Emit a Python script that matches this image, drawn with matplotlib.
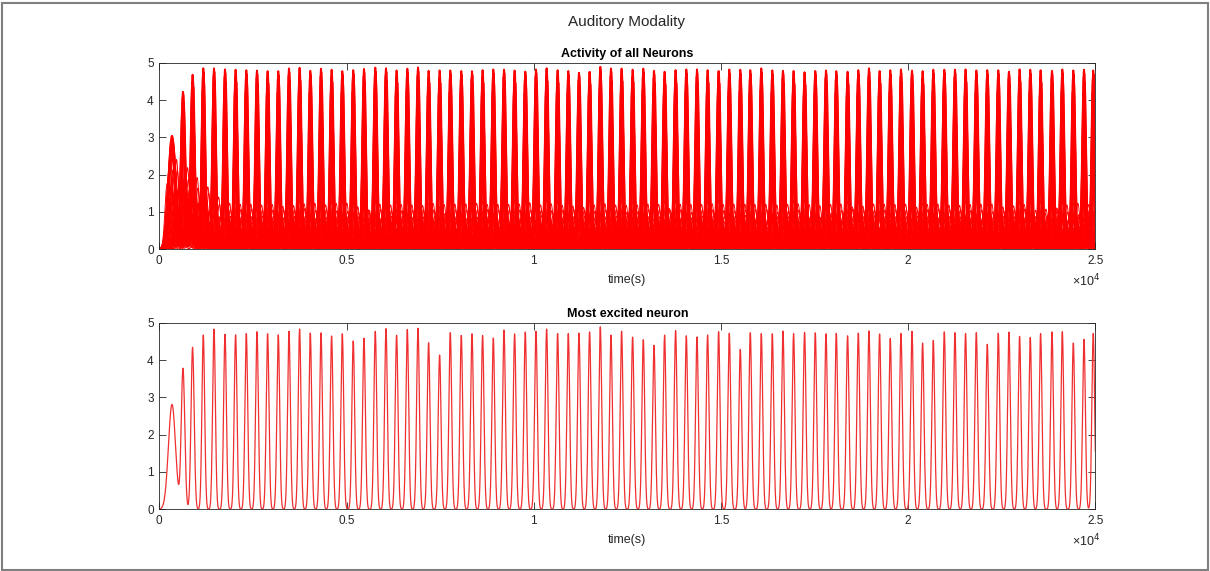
import matplotlib
matplotlib.use("Agg")
import matplotlib.pyplot as plt
import numpy as np
from matplotlib.patches import Rectangle

plt.rcParams["font.family"] = ["Liberation Sans", "DejaVu Sans"]

# values
# ======================================================================================================================

t_max = 25000
period = 287

# peak times of the most excited neuron (also the big peaks of the population)
peak_times = [339, 633, 889, 1175, 1461, 1755, 2038, 2324, 2609, 2893, 3178, 3464, 3747, 4033, 4319, 4602, 4888,
              5180, 5467, 5769, 6055, 6338, 6624, 6910, 7193, 7487, 7772, 8066, 8352, 8635, 8921, 9207, 9490, 9775,
              10061, 10345, 10639, 10924, 11210, 11493, 11779, 12064, 12348, 12642, 12927, 13213, 13496, 13790,
              14076, 14361, 14645, 14939, 15224, 15518, 15785, 16079, 16373, 16658, 16941, 17235, 17521, 17807,
              18082, 18384, 18670, 18955, 19239, 19524, 19810, 20104, 20387, 20673, 20967, 21252, 21535, 21822,
              22115, 22409, 22694, 22978, 23263, 23539, 23843, 24119, 24413, 24698, 24945]

# peak heights of the most excited neuron (bottom panel)
excited_heights = [2.81, 3.76, 4.34, 4.67, 4.83, 4.69, 4.68, 4.71, 4.76, 4.71, 4.68, 4.77, 4.84, 4.73, 4.73, 4.65,
                   4.71, 4.51, 4.59, 4.77, 4.84, 4.67, 4.82, 4.85, 4.47, 4.14, 4.74, 4.66, 4.71, 4.66, 4.59, 4.81,
                   4.70, 4.75, 4.77, 4.83,
                   4.71, 4.71, 4.72, 4.76, 4.89, 4.67, 4.78, 4.62, 4.55, 4.40, 4.67, 4.79, 4.65, 4.62, 4.67, 4.76,
                   4.72, 4.29, 4.73, 4.71, 4.71, 4.78, 4.71, 4.74, 4.73, 4.71, 4.72, 4.65, 4.72, 4.78, 4.70, 4.58,
                   4.71, 4.77, 4.46, 4.53, 4.76, 4.74, 4.71,
                   4.74, 4.42, 4.72, 4.75, 4.64, 4.61, 4.71, 4.76, 4.76, 4.46, 4.56, 4.71]

# tallest trace among all neurons (top panel envelope)
top_heights = [3.04, 4.20, 4.68,
               4.85, 4.85, 4.82, 4.82, 4.80, 4.79, 4.78, 4.78, 4.85, 4.87,
               4.79, 4.84, 4.82, 4.78, 4.80, 4.84, 4.87, 4.85, 4.80, 4.84,
               4.87, 4.79, 4.80, 4.80, 4.78, 4.78, 4.80, 4.82, 4.82, 4.79,
               4.76, 4.82, 4.85, 4.80,
               4.78, 4.73, 4.76, 4.89, 4.85, 4.85, 4.82, 4.85, 4.79, 4.76,
               4.80, 4.82, 4.82, 4.80, 4.78, 4.82, 4.82, 4.80, 4.85, 4.80,
               4.79, 4.78, 4.74, 4.78, 4.80, 4.78, 4.76, 4.80, 4.85, 4.78,
               4.80, 4.82, 4.79, 4.78, 4.82, 4.82, 4.82, 4.82,
               4.80, 4.80, 4.80, 4.76, 4.83, 4.82, 4.80, 4.79, 4.82, 4.80, 4.82, 4.79]

# pulse widths: first bursts are broader
early_widths = [95, 47, 42]
pulse_width = 37

# strongly driven neurons firing with the big peaks: level relative to the tallest one and phase lag
high_gains = [0.98, 0.96, 0.93, 0.88, 0.80, 0.70, 0.55, 0.42]
high_lags = [0.05, -0.05, 0.09, -0.08, 0.02, 0.12, -0.11, 0.0]

# weaker neurons: peak level and phase lag (fraction of a period)
low_gains = [1.30, 1.20, 1.15, 1.10, 1.05, 1.00, 0.95, 0.90, 0.88, 0.85, 0.80, 0.75, 0.72, 0.70, 0.65,
             0.60, 0.55, 0.50, 0.48, 0.45, 0.40, 0.35, 0.32, 0.30, 0.25, 0.20, 0.18, 0.15, 0.10, 0.06]
low_lags = [0.00, 0.42, -0.12, 0.18, 0.50, -0.30, 0.08, 0.33, -0.45, 0.25, -0.05, 0.60, -0.20, 0.12, 0.38,
            -0.38, 0.05, 0.48, -0.15, 0.28, -0.25, 0.15, 0.55, -0.08, 0.35, -0.42, 0.22, 0.45, -0.32, 0.10]
early_boost = [2.0, 1.8, 1.6, 1.4, 1.15]
low_width = 58

# build traces
# ======================================================================================================================

t = np.linspace(0, t_max, 5001)


def pulse_train(times, heights, widths):
    y = np.zeros_like(t)
    for tp, h, w in zip(times, heights, widths):
        y += h * np.exp(-(t - tp) ** 2 / (2 * w ** 2))
    return y


n = len(peak_times)
widths = early_widths + [pulse_width] * (n - len(early_widths))

excited = pulse_train(peak_times, excited_heights, widths)
tallest = pulse_train(peak_times, top_heights, widths)

high_traces = []
for g, lag in zip(high_gains, high_lags):
    times = [tp + lag * period for tp in peak_times]
    high_traces.append(pulse_train(times, [g * h for h in top_heights], widths))

low_traces = []
for k, (g, lag) in enumerate(zip(low_gains, low_lags)):
    times = [tp + lag * period for tp in peak_times]
    amps = []
    for j in range(n):
        a = g * excited_heights[(j + 7 * k) % n] / 4.7
        if j < len(early_boost):
            a *= early_boost[j]
        amps.append(a)
    low_traces.append(pulse_train(times, amps, [low_width] * n))

# plotting
# ======================================================================================================================

fig = plt.figure(figsize=(12.1, 5.71), dpi=100)
fig.patches.append(Rectangle((1.5 / 1210, 1.5 / 571), 1206 / 1210, 567 / 571, transform=fig.transFigure,
                             fill=False, edgecolor="#7f7f7f", linewidth=1.5))

ax1 = fig.add_axes([159.3 / 1210, 1 - 249.3 / 571, 936 / 1210, 186.6 / 571])
ax2 = fig.add_axes([159.3 / 1210, 1 - 509.3 / 571, 936 / 1210, 186.6 / 571])

for y in low_traces:
    ax1.plot(t, y, color="red", linewidth=0.7)
for y in high_traces:
    ax1.plot(t, y, color="red", linewidth=1.0)
ax1.plot(t, excited, color="red", linewidth=1.2)
ax1.plot(t, tallest, color="red", linewidth=1.4)

ax2.plot(t, excited, color="#f03030", linewidth=0.9)

fig.text(627 / 1210, 1 - 22 / 571, "Auditory Modality", ha="center", va="center", fontsize=11, color="#262626")
ax1.set_title("Activity of all Neurons", fontsize=9, fontweight="bold", pad=4)
ax2.set_title("Most excited neuron", fontsize=9, fontweight="bold", pad=4)

for ax in (ax1, ax2):
    ax.set_xlim(0, t_max)
    ax.set_ylim(0, 5)
    ax.set_xticks([0, 5000, 10000, 15000, 20000, 25000])
    ax.set_xticklabels(["0", "0.5", "1", "1.5", "2", "2.5"])
    ax.set_yticks([0, 1, 2, 3, 4, 5])
    ax.tick_params(direction="in", top=True, right=True, length=5, width=0.6, colors="#262626",
                   labelsize=8.5, pad=4)
    for s in ax.spines.values():
        s.set_color("#262626")
        s.set_linewidth(0.6)
    ax.set_xlabel("time(s)", fontsize=9, color="#262626", labelpad=5)
    ax.text(1.005, -0.17, "×10$^{4}$", transform=ax.transAxes, ha="right", va="center", fontsize=9,
            color="#262626")

fig.savefig("out.png", dpi=100)
